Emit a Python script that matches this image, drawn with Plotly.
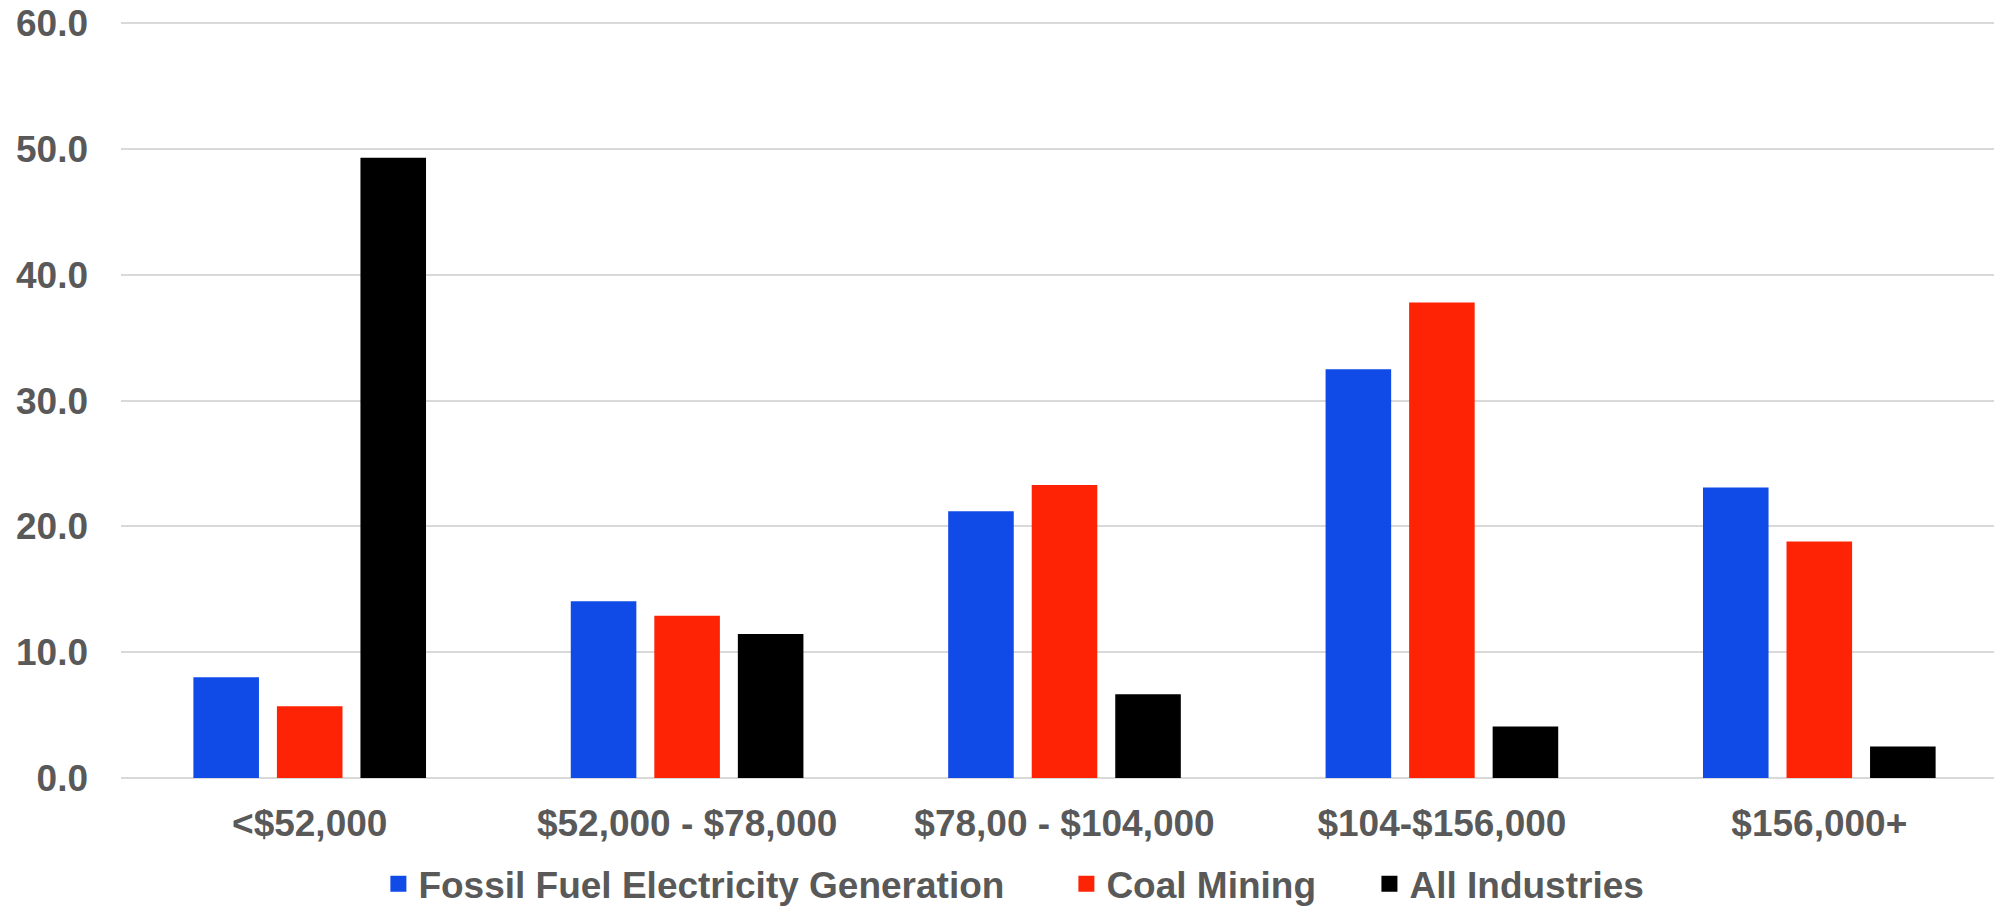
import plotly.graph_objects as go

categories = ["<$52,000", "$52,000 - $78,000", "$78,00 - $104,000", "$104-$156,000", "$156,000+"]
fossil_fuel = [8.0, 14.05, 21.2, 32.5, 23.1]
coal_mining = [5.7, 12.9, 23.3, 37.8, 18.8]
all_industries = [49.3, 11.45, 6.65, 4.1, 2.5]

series = [
    ("Fossil Fuel Electricity Generation", fossil_fuel, "#104BE8"),
    ("Coal Mining", coal_mining, "#FF2306"),
    ("All Industries", all_industries, "#000000"),
]
legend_x = [0.1364, 0.501, 0.6616]  # left edge of each legend entry (paper fraction)

GREY = "#595959"
FONT = "Liberation Sans, Arial, sans-serif"
font = dict(family=FONT, size=37, color=GREY, weight="bold")

fig = go.Figure()

for name, vals, color in series:
    fig.add_trace(go.Bar(
        x=categories, y=vals, name=name,
        marker_color=color, marker_line_width=0,
        showlegend=False,
    ))

# legend entries with bigger square swatches, one legend per entry for spacing
legend_ids = ["legend", "legend2", "legend3"]
for (name, vals, color), lid in zip(series, legend_ids):
    fig.add_trace(go.Scatter(
        x=[None], y=[None], mode="markers", name=name, legend=lid,
        marker=dict(symbol="square", size=18, color=color),
    ))

legend_common = dict(
    orientation="h", xref="paper", xanchor="left",
    yref="paper", y=-0.1404, yanchor="middle",
    font=font, itemwidth=30, bgcolor="rgba(0,0,0,0)",
)

# page body has an 8px margin, so margins are offset to compensate
fig.update_layout(
    width=2002, height=908,
    margin=dict(l=113, r=2, t=14, b=138, autoexpand=False),
    paper_bgcolor="white", plot_bgcolor="white",
    barmode="group", bargap=0.336, bargroupgap=0.215,
    font=font,
    legend=dict(x=legend_x[0], **legend_common),
    legend2=dict(x=legend_x[1], **legend_common),
    legend3=dict(x=legend_x[2], **legend_common),
)

fig.update_xaxes(
    range=[-0.5, 4.5], showgrid=False, showline=False, zeroline=False,
    tickfont=font, ticks="", ticklabelstandoff=20, automargin=False,
)
fig.update_yaxes(
    range=[0, 60.1], tickvals=[0, 10, 20, 30, 40, 50, 60], tickformat=".1f",
    showgrid=True, gridcolor="#d9d9d9", gridwidth=2,
    zeroline=True, zerolinecolor="#d9d9d9", zerolinewidth=2,
    showline=False, ticks="", ticklabelstandoff=32, automargin=False,
    ticklabeloverflow="allow", tickfont=font,
)

fig.write_html("out.html")
